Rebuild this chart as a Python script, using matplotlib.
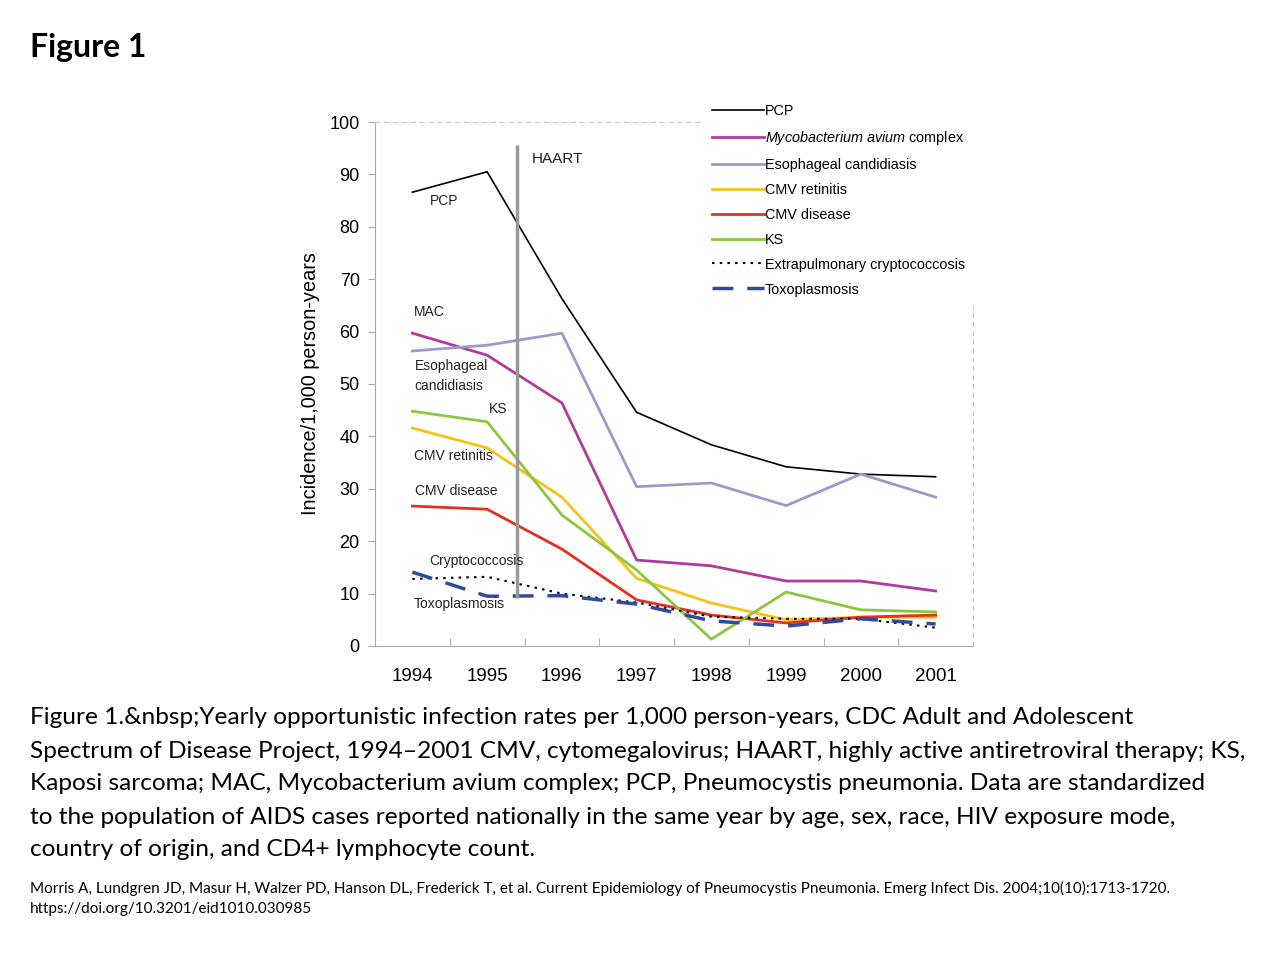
import matplotlib.pyplot as plt
from matplotlib.ticker import FixedLocator

# Data
years = [1994, 1995, 1996, 1997, 1998, 1999, 2000, 2001]
pcp = [86.6, 90.5, 66.3, 44.6, 38.4, 34.2, 32.8, 32.3]
mac = [59.7, 55.5, 46.4, 16.4, 15.3, 12.4, 12.4, 10.5]
esoph = [56.3, 57.4, 59.7, 30.4, 31.1, 26.8, 32.8, 28.4]
cmv_ret = [41.6, 37.8, 28.4, 12.9, 8.2, 5.0, 5.5, 5.5]
cmv_dis = [26.7, 26.1, 18.5, 8.8, 5.9, 4.4, 5.5, 5.9]
ks = [44.8, 42.8, 25.0, 14.5, 1.3, 10.3, 6.9, 6.5]
crypto = [12.8, 13.2, 10.0, 8.3, 5.6, 5.2, 5.2, 3.5]
toxo = [14.1, 9.5, 9.6, 8.0, 4.8, 3.8, 5.2, 4.2]
haart_x = 1995.4
haart_range = [9.2, 95.6]

plt.rcParams['font.family'] = ['Liberation Sans', 'DejaVu Sans']
plt.rcParams['mathtext.fontset'] = 'custom'
plt.rcParams['mathtext.rm'] = 'Liberation Sans'
plt.rcParams['mathtext.it'] = 'Liberation Sans:italic'

fig = plt.figure(figsize=(12.8, 9.6), dpi=100)
ax = fig.add_axes([375 / 1280, 314 / 960, 598 / 1280, 524 / 960])

ax.plot(years, pcp, color='black', lw=1.2, label='PCP')
ax.plot(years, mac, color='#b23a9c', lw=2, label='$\\it{Mycobacterium\\ avium}$ complex')
ax.plot(years, esoph, color='#9b9bcb', lw=2, label='Esophageal candidiasis')
ax.plot(years, cmv_ret, color='#f6c21a', lw=2, label='CMV retinitis')
ax.plot(years, cmv_dis, color='#e2311d', lw=2, label='CMV disease')
ax.plot(years, ks, color='#8cc63f', lw=2, label='KS')
ax.plot(years, crypto, color='black', lw=1.5, ls=(0, (1.2, 2.5)),
        label='Extrapulmonary cryptococcosis')
ax.plot(years, toxo, color='#2f4b9b', lw=2.5, ls=(0, (6, 4)), label='Toxoplasmosis')

ax.vlines(haart_x, haart_range[0], haart_range[1], color='#999999', lw=2.5)

ax.set_xlim(1993.5, 2001.5)
ax.set_ylim(0, 100)
ax.set_xticks(years)
ax.xaxis.set_minor_locator(FixedLocator([y + 0.5 for y in years[:-1]]))
ax.set_yticks(range(0, 101, 10))
ax.tick_params(axis='x', which='major', length=0, labelsize=13.5, pad=16)
ax.tick_params(axis='x', which='minor', length=6, color='#aaaaaa', direction='in')
ax.tick_params(axis='y', length=5, color='#aaaaaa', labelsize=13, pad=6)
for s in ['left', 'bottom']:
    ax.spines[s].set_color('#aaaaaa')
for s in ['top', 'right']:
    ax.spines[s].set_color('#c8c8c8')
    ax.spines[s].set_linestyle((0, (4, 4)))
ax.set_ylabel('Incidence/1,000 person-years', fontsize=14.3, labelpad=7)

lbl = dict(fontsize=10, color='#222222')
ax.text(1995.6, 93, 'HAART', fontsize=11, color='#222222', va='center')
ax.text(1994.23, 85, 'PCP', va='center', **lbl)
ax.text(1994.02, 63.8, 'MAC', va='center', **lbl)
ax.text(1994.03, 51.5, 'Esophageal\ncandidiasis', va='center', linespacing=1.5, **lbl)
ax.text(1995.03, 45.2, 'KS', va='center', **lbl)
ax.text(1994.02, 36.3, 'CMV retinitis', va='center', **lbl)
ax.text(1994.03, 29.6, 'CMV disease', va='center', **lbl)
ax.text(1994.23, 16.3, 'Cryptococcosis', va='center', **lbl)
ax.text(1994.02, 8.1, 'Toxoplasmosis', va='center', **lbl)

leg = ax.legend(loc='upper left', bbox_to_anchor=(703 / 1280, 1 - 95 / 960),
                bbox_transform=fig.transFigure, frameon=True, fancybox=False,
                edgecolor='white', facecolor='white', framealpha=1,
                fontsize=10.4, handlelength=3.6, handletextpad=0.1,
                labelspacing=0.76, borderpad=0.6, borderaxespad=0)

fig.text(30 / 1280, 1 - 47 / 960, 'Figure 1', fontsize=23, fontweight='bold',
         family=['Lato', 'DejaVu Sans'], va='center')

caption = [
    'Figure 1.&nbsp;Yearly opportunistic infection rates per 1,000 person-years, CDC Adult and Adolescent',
    'Spectrum of Disease Project, 1994\u20132001 CMV, cytomegalovirus; HAART, highly active antiretroviral therapy; KS,',
    'Kaposi sarcoma; MAC, Mycobacterium avium complex; PCP, Pneumocystis pneumonia. Data are standardized',
    'to the population of AIDS cases reported nationally in the same year by age, sex, race, HIV exposure mode,',
    'country of origin, and CD4+ lymphocyte count.',
]
for i, line in enumerate(caption):
    fig.text(30 / 1280, 1 - (718 + 33 * i) / 960, line, fontsize=17.6,
             family=['Lato', 'DejaVu Sans'], va='center')

fig.text(30 / 1280, 1 - 888 / 960,
         'Morris A, Lundgren JD, Masur H, Walzer PD, Hanson DL, Frederick T, et al. Current Epidemiology '
         'of Pneumocystis Pneumonia. Emerg Infect Dis. 2004;10(10):1713-1720.',
         fontsize=11, family=['Lato', 'DejaVu Sans'], va='center')
fig.text(30 / 1280, 1 - 909 / 960, 'https://doi.org/10.3201/eid1010.030985',
         fontsize=11, family=['Lato', 'DejaVu Sans'], va='center')

fig.savefig('out.png', dpi=100)
